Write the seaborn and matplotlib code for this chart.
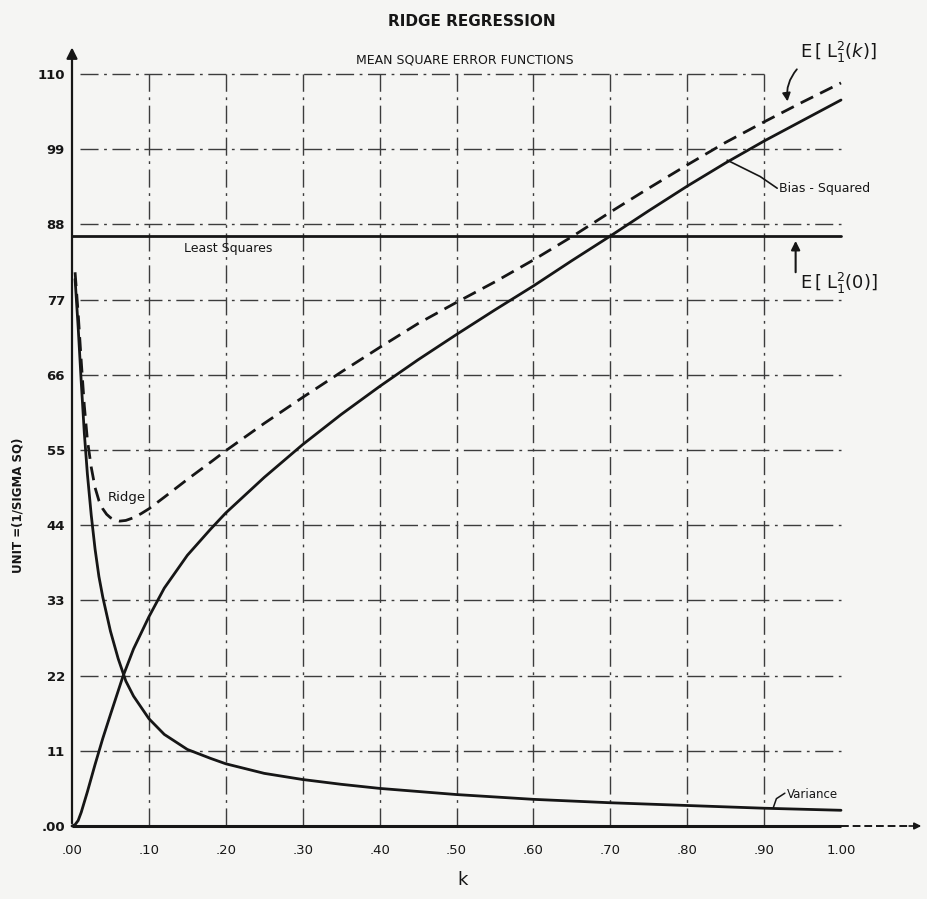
import matplotlib
matplotlib.use("Agg")
import matplotlib.pyplot as plt
import numpy as np
import pandas as pd
import seaborn as sns

# ---------------- data ----------------
k_var = [0.004, 0.008, 0.012, 0.016, 0.02, 0.025, 0.03, 0.035, 0.04, 0.05, 0.06,
         0.07, 0.08, 0.1, 0.12, 0.15, 0.18, 0.2, 0.25, 0.3, 0.35, 0.4, 0.5, 0.6,
         0.7, 0.8, 0.9, 1.0]
variance = [80, 73, 65, 57.5, 51.5, 45.5, 40.5, 36.5, 33.5, 28.5, 24.5,
            21.2, 19, 15.7, 13.4, 11.2, 9.9, 9.1, 7.7, 6.8, 6.1, 5.5, 4.6, 3.9,
            3.4, 3.0, 2.6, 2.3]

k_bias = [0, 0.004, 0.008, 0.012, 0.016, 0.02, 0.025, 0.03, 0.04, 0.05, 0.066,
          0.08, 0.1, 0.12, 0.15, 0.18, 0.2, 0.25, 0.3, 0.35, 0.4, 0.45, 0.5,
          0.55, 0.6, 0.65, 0.7, 0.75, 0.8, 0.85, 0.9, 0.95, 1.0]
bias_sq = [0, 0.2, 0.8, 2.0, 3.5, 5.0, 7.0, 9.0, 12.8, 16.3, 21.8,
           25.9, 30.6, 34.8, 39.6, 43.4, 45.8, 51, 55.8, 60.2, 64.3, 68.2, 71.9,
           75.5, 79, 82.7, 86.3, 90, 93.6, 97, 100.2, 103.2, 106.2]

k_ridge = [0.004, 0.008, 0.012, 0.016, 0.02, 0.025, 0.03, 0.035, 0.04, 0.045,
           0.05, 0.055, 0.062, 0.07, 0.08, 0.09, 0.1, 0.12, 0.15, 0.18, 0.2,
           0.25, 0.3, 0.35, 0.4, 0.45, 0.5, 0.55, 0.6, 0.65, 0.7, 0.75, 0.8,
           0.85, 0.9, 0.95, 1.0]
ridge_mse = [81, 75, 68, 61.5, 56.5, 52.5, 49.5, 47.6, 46.4, 45.6,
             45.1, 44.8, 44.6, 44.7, 45.1, 45.7, 46.4, 48.1, 50.7, 53.2, 54.9,
             58.9, 62.7, 66.4, 70, 73.5, 76.6, 79.6, 82.8, 86.2, 89.8, 93.3, 96.7,
             100, 103, 105.9, 108.7]

least_squares = 86.3

y_ticks = [0, 11, 22, 33, 44, 55, 66, 77, 88, 99, 110]
y_ticklabels = [".00", "11", "22", "33", "44", "55", "66", "77", "88", "99", "110"]
x_ticks = [0.0, 0.1, 0.2, 0.3, 0.4, 0.5, 0.6, 0.7, 0.8, 0.9, 1.0]
x_ticklabels = [".00", ".10", ".20", ".30", ".40", ".50", ".60", ".70", ".80", ".90", "1.00"]

# ---------------- figure ----------------
sns.set_theme(style="white")
plt.rcParams['font.family'] = ['DejaVu Sans']

INK = "#161616"
W, H = 927, 899
fig = plt.figure(figsize=(W / 100, H / 100), dpi=100)
fig.patch.set_facecolor("#f5f5f3")

XMAX, YMAX = 1.111, 114.5
x0, y0 = 72, 826            # pixel of origin
pxx, pxy = 769.0, 6.836     # pixels per unit
ax = fig.add_axes([x0 / W, 1 - y0 / H, XMAX * pxx / W, YMAX * pxy / H])
ax.set_facecolor("none")
ax.set_xlim(0, XMAX)
ax.set_ylim(0, YMAX)
for s in ax.spines.values():
    s.set_visible(False)

# grid (dash-dot)
grid_ls = (0, (13, 4, 2, 4))
for yv in y_ticks[1:]:
    xe = 0.9 if yv == 110 else 1.0
    ax.plot([0.01, xe], [yv, yv], color="#3c3c3c", lw=1.0, ls=grid_ls, zorder=1)
for xv in x_ticks[1:-1]:
    ax.plot([xv, xv], [0, 110], color="#3c3c3c", lw=1.0, ls=grid_ls, zorder=1)

# axes lines with arrows
ax.annotate("", xy=(0, YMAX - 0.2), xytext=(0, 0),
            arrowprops=dict(arrowstyle="-|>", color=INK, lw=1.6, mutation_scale=16),
            annotation_clip=False)
ax.plot([0, 1.0], [0, 0], color=INK, lw=2.2, solid_capstyle="butt", clip_on=False, zorder=3)
ax.plot([1.0, 1.09], [0, 0], color=INK, lw=1.4, ls=(0, (4, 2)), clip_on=False, zorder=3)
ax.annotate("", xy=(1.108, 0), xytext=(1.085, 0),
            arrowprops=dict(arrowstyle="-|>", color=INK, lw=1.2, mutation_scale=10),
            annotation_clip=False)

# least squares line
ax.plot([0, 1.0], [least_squares, least_squares], color=INK, lw=2.0, zorder=3)

# curves
df_var = pd.DataFrame({"k": k_var, "mse": variance})
df_bias = pd.DataFrame({"k": k_bias, "mse": bias_sq})
df_ridge = pd.DataFrame({"k": k_ridge, "mse": ridge_mse})
sns.lineplot(data=df_var, x="k", y="mse", ax=ax, color=INK, lw=2.0,
             estimator=None, clip_on=False, zorder=4)
sns.lineplot(data=df_bias, x="k", y="mse", ax=ax, color=INK, lw=2.0,
             estimator=None, clip_on=False, zorder=4)
sns.lineplot(data=df_ridge, x="k", y="mse", ax=ax, color=INK, lw=2.0,
             estimator=None, linestyle=(0, (5, 2.8)), clip_on=False, zorder=4)

# ticks
ax.set_yticks(y_ticks)
ax.set_yticklabels(y_ticklabels, fontsize=9.5, color=INK, fontweight="bold")
ax.set_xticks(x_ticks)
ax.set_xticklabels(x_ticklabels, fontsize=9.5, color=INK)
ax.tick_params(axis="y", length=0, pad=5)
ax.tick_params(axis="x", length=0, pad=13)
ax.set_xlabel("")
ax.set_ylabel("")

# labels
fig.text(472 / W, 1 - 22 / H, "RIDGE REGRESSION", ha="center", va="center",
         fontsize=11, fontweight="bold", color=INK)
fig.text(465 / W, 1 - 60 / H, "MEAN SQUARE ERROR FUNCTIONS", ha="center", va="center",
         fontsize=9, color=INK)
fig.text(18 / W, 1 - 505 / H, "UNIT =(1/SIGMA SQ)", rotation=90, ha="center", va="center",
         fontsize=8.5, fontweight="bold", color=INK)
fig.text(463 / W, 1 - 880 / H, "k", ha="center", va="center", fontsize=13, color=INK)

ax.text(0.145, least_squares - 0.9, "Least Squares", ha="left", va="top",
        fontsize=9, color=INK)
ax.text(0.071, 48.1, "Ridge", ha="center", va="center", fontsize=9.5, color=INK)
ax.text(0.92, 93.3, "Bias - Squared", ha="left", va="center", fontsize=9, color=INK)
ax.plot([0.852, 0.895, 0.917], [97.4, 95.0, 93.3], color=INK, lw=1.2, zorder=4)
ax.text(0.93, 4.6, "Variance", ha="left", va="center", fontsize=8.5, color=INK)
ax.plot([0.912, 0.916, 0.927], [2.7, 4.0, 4.8], color=INK, lw=1.1, zorder=4)

ax.text(0.997, 113.1, r"E$\,[\;\mathrm{L}_1^2(k)]$", ha="center", va="center",
        fontsize=13, color=INK, clip_on=False)
ax.annotate("", xy=(0.931, 105.6), xytext=(0.945, 111.0),
            arrowprops=dict(arrowstyle="-|>", color=INK, lw=1.3, mutation_scale=12,
                            connectionstyle="arc3,rad=0.25"),
            annotation_clip=False)
ax.text(0.997, 79.4, r"E$\,[\;\mathrm{L}_1^2(0)]$", ha="center", va="center",
        fontsize=13, color=INK, clip_on=False)
ax.annotate("", xy=(0.941, 86.0), xytext=(0.941, 80.6),
            arrowprops=dict(arrowstyle="-|>", color=INK, lw=1.5, mutation_scale=13),
            annotation_clip=False)

fig.savefig("out.png", dpi=100, facecolor=fig.get_facecolor())
